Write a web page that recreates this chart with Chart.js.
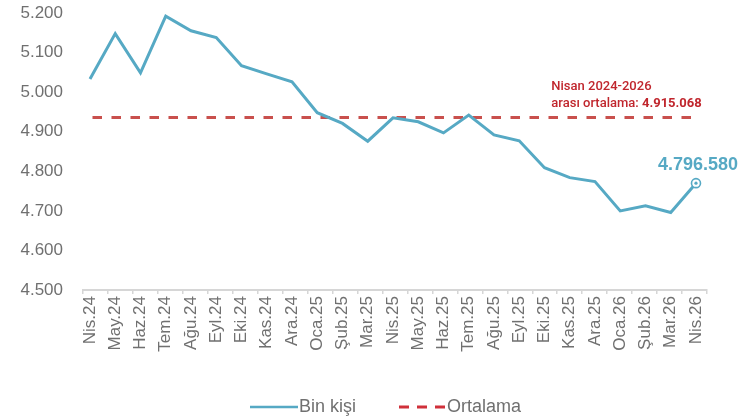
<!DOCTYPE html>
<html>
<head>
<meta charset="utf-8">
<script src="https://cdn.jsdelivr.net/npm/chart.js@4.4.1/dist/chart.umd.min.js"></script>
<style>
  html, body { margin: 0; padding: 0; background: #ffffff; }
  #wrap { width: 753px; height: 418px; position: relative; }
</style>
</head>
<body>
<div id="wrap"><canvas id="c" width="753" height="418"></canvas></div>
<script>
// ---- data ----
const categories = ['Nis.24','May.24','Haz.24','Tem.24','Ağu.24','Eyl.24','Eki.24','Kas.24','Ara.24',
  'Oca.25','Şub.25','Mar.25','Nis.25','May.25','Haz.25','Tem.25','Ağu.25','Eyl.25','Eki.25',
  'Kas.25','Ara.25','Oca.26','Şub.26','Mar.26','Nis.26'];
const employed = [5033, 5148, 5049, 5192, 5155, 5138, 5067, 5046, 5026,
  4948, 4921, 4876, 4935, 4925, 4897, 4942, 4892, 4877, 4809,
  4784, 4774, 4700, 4713, 4696, 4770];
const averageValue = 4936;
const yTicks = [4500, 4600, 4700, 4800, 4900, 5000, 5100, 5200];
const seriesLabel = 'Bin kişi';
const averageLabel = 'Ortalama';
const lastValueText = '4.796.580';
const noteLine1 = 'Nisan 2024-2026';
const noteLine2a = 'arası ortalama: ';
const noteLine2b = '4.915.068';

// ---- styles ----
const BLUE = '#56a9c4';
const RED = '#c9504d';
const RED_TEXT = '#c0262d';
const GRAY = '#707070';
const AXIS = '#d6d6d6';
const FONT = '"Liberation Sans", Arial, sans-serif';

const xMin = -0.277, xMax = 24.436;

function fmt(v) {
  return String(Math.round(v)).replace(/\B(?=(\d{3})+(?!\d))/g, '.');
}

const decor = {
  id: 'decor',
  afterDatasetsDraw(chart) {
    const ctx = chart.ctx;
    const meta = chart.getDatasetMeta(0);
    const last = meta.data[meta.data.length - 1];
    const xs = chart.scales.x, ys = chart.scales.y;
    ctx.save();
    // end marker
    ctx.beginPath();
    ctx.arc(last.x, last.y, 4.5, 0, Math.PI * 2);
    ctx.fillStyle = '#ffffff';
    ctx.fill();
    ctx.lineWidth = 1.6;
    ctx.strokeStyle = BLUE;
    ctx.stroke();
    ctx.beginPath();
    ctx.arc(last.x, last.y, 1.6, 0, Math.PI * 2);
    ctx.fillStyle = BLUE;
    ctx.fill();
    // last value label
    ctx.font = 'bold 18px ' + FONT;
    ctx.fillStyle = BLUE;
    ctx.textAlign = 'center';
    ctx.textBaseline = 'middle';
    ctx.fillText(lastValueText, last.x + 2, last.y - 18);
    // average note
    const ay = ys.getPixelForValue(averageValue);
    const nx = xs.getPixelForValue(18.27);
    ctx.textAlign = 'left';
    ctx.fillStyle = RED_TEXT;
    ctx.font = '500 13px Roboto, ' + FONT;
    ctx.fillText(noteLine1, nx, ay - 31);
    ctx.fillText(noteLine2a, nx, ay - 13.5);
    const w = ctx.measureText(noteLine2a).width;
    ctx.font = 'bold 13px Roboto, ' + FONT;
    ctx.fillText(noteLine2b, nx + w, ay - 13.5);
    // legend
    const ly = 407;
    ctx.lineCap = 'butt';
    ctx.setLineDash([]);
    ctx.strokeStyle = BLUE;
    ctx.lineWidth = 2.5;
    ctx.beginPath(); ctx.moveTo(250, ly); ctx.lineTo(298, ly); ctx.stroke();
    ctx.font = '18px ' + FONT;
    ctx.fillStyle = GRAY;
    ctx.fillText(seriesLabel, 299, ly);
    ctx.strokeStyle = '#d0303a';
    ctx.lineWidth = 3;
    ctx.setLineDash([10, 8]);
    ctx.beginPath(); ctx.moveTo(399, ly); ctx.lineTo(446, ly); ctx.stroke();
    ctx.setLineDash([]);
    ctx.fillText(averageLabel, 447, ly);
    ctx.restore();
  }
};

new Chart(document.getElementById('c'), {
  type: 'line',
  data: {
    datasets: [
      {
        label: seriesLabel,
        data: employed.map((v, i) => ({ x: i, y: v })),
        borderColor: BLUE,
        borderWidth: 3,
        pointRadius: 0,
        tension: 0,
        fill: false
      },
      {
        label: averageLabel,
        data: categories.map((c, i) => ({ x: i, y: averageValue })),
        borderColor: RED,
        borderWidth: 3,
        borderDash: [9.5, 9.5],
        borderDashOffset: -2.5,
        pointRadius: 0,
        fill: false
      }
    ]
  },
  options: {
    responsive: false,
    animation: false,
    devicePixelRatio: 1,
    layout: { padding: { top: 13, right: 46, left: 0, bottom: 0 } },
    plugins: { legend: { display: false }, tooltip: { enabled: false } },
    scales: {
      x: {
        type: 'linear',
        min: xMin,
        max: xMax,
        afterBuildTicks(s) {
          const t = categories.map((c, i) => ({ value: i, boundary: false }));
          for (let k = 0; k <= categories.length; k++) {
            t.push({ value: xMin + k * (xMax - xMin) / categories.length, boundary: true });
          }
          t.sort((a, b) => a.value - b.value);
          s.ticks = t;
        },
        afterFit(s) {
          s.height = 128;
          s.paddingTop = 0; s.paddingBottom = 0; s.paddingLeft = 0; s.paddingRight = 0;
        },
        border: { display: true, color: AXIS, width: 2 },
        grid: {
          display: true,
          drawOnChartArea: false,
          drawTicks: true,
          tickLength: 4,
          lineWidth: 1.5,
          tickColor: (c) => (c.tick && c.tick.boundary) ? AXIS : 'rgba(0,0,0,0)'
        },
        ticks: {
          autoSkip: false,
          minRotation: 90,
          maxRotation: 90,
          padding: 2,
          color: GRAY,
          font: { family: FONT, size: 17 },
          callback(v, i, ts) { return ts[i].boundary ? '' : categories[Math.round(v)]; }
        }
      },
      y: {
        min: 4500,
        max: 5200,
        afterBuildTicks(s) { s.ticks = yTicks.map(v => ({ value: v })); },
        afterFit(s) {
          s.width = 83;
          s.paddingTop = 0; s.paddingBottom = 0; s.paddingLeft = 0; s.paddingRight = 0;
        },
        border: { display: false },
        grid: { display: false, drawTicks: false },
        ticks: {
          padding: 20,
          color: GRAY,
          font: { family: FONT, size: 17 },
          callback: (v) => fmt(v)
        }
      }
    }
  },
  plugins: [decor]
});
</script>
</body>
</html>
